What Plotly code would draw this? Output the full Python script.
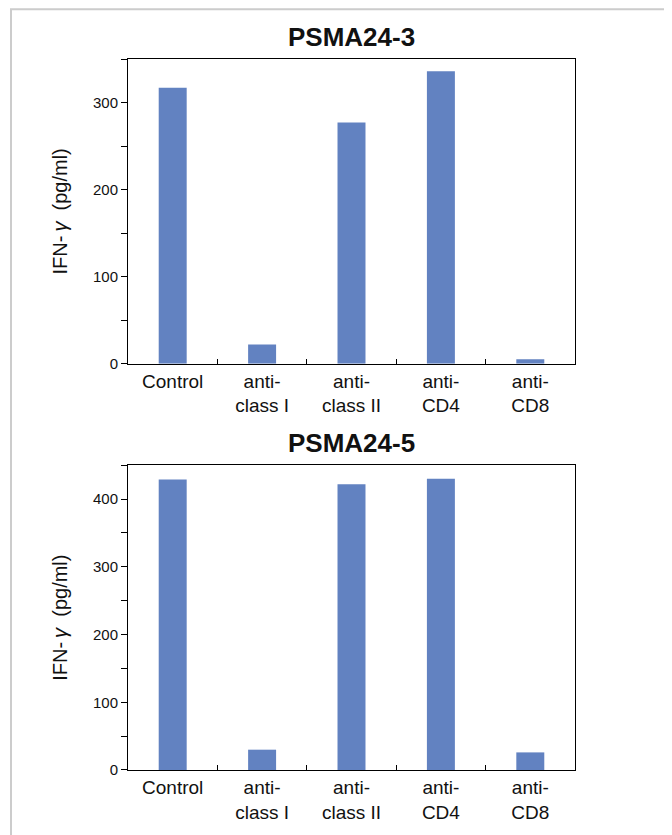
import plotly.graph_objects as go

categories = ["Control", "anti-<br>class I", "anti-<br>class II", "anti-<br>CD4", "anti-<br>CD8"]
psma24_3 = [317, 22, 277, 336, 5]
psma24_5 = [429, 30, 422, 430, 26]
titles = ["PSMA24-3", "PSMA24-5"]
y_title = "IFN-\u2009<i>γ</i>  (pg/ml)"

BAR = "#6282C1"
FONT = "Liberation Sans, Arial, sans-serif"

# page has an 8px body margin, so the figure is laid out 8px up/left of screen coords
OFF = 8
W, H = 672 - OFF, 835 - OFF
L, T = 128 - OFF, 59 - OFF
R = W - (575 - OFF)
B = H - (773 - OFF)
pw = W - L - R
ph = H - T - B

top_lo = (773 - 365) / ph
bot_hi = (773 - 467) / ph

fig = go.Figure()
fig.add_trace(go.Bar(x=categories, y=psma24_3, marker_color=BAR, marker_line_width=0,
                     xaxis="x", yaxis="y", showlegend=False))
fig.add_trace(go.Bar(x=categories, y=psma24_5, marker_color=BAR, marker_line_width=0,
                     xaxis="x2", yaxis="y2", showlegend=False))

xcommon = dict(type="category", showline=True, linecolor="black", linewidth=1, mirror=True,
               ticks="inside", tickson="boundaries", ticklen=5, tickcolor="black",
               tickfont=dict(size=19, color="#111", family=FONT), showgrid=False, zeroline=False)
ycommon = dict(showline=True, linecolor="black", linewidth=1, mirror=True,
               ticks="outside", ticklen=6, tickcolor="black", dtick=100,
               minor=dict(dtick=50, ticks="outside", ticklen=6, tickcolor="black", showgrid=False),
               tickfont=dict(size=15, color="#111", family=FONT), showgrid=False, zeroline=False,
               title=dict(text=y_title, font=dict(size=20, color="#111", family=FONT), standoff=19))

fig.update_layout(
    width=W, height=H,
    margin=dict(l=L, r=R, t=T, b=B),
    paper_bgcolor="white", plot_bgcolor="white",
    bargap=0.687,
    font=dict(family=FONT, color="#111"),
    xaxis=dict(domain=[0, 1], anchor="y", **xcommon),
    yaxis=dict(domain=[top_lo, 1], anchor="x", range=[0, 350], **ycommon),
    xaxis2=dict(domain=[0, 1], anchor="y2", **xcommon),
    yaxis2=dict(domain=[0, bot_hi], anchor="x2", range=[0, 450], **ycommon),
)

for t, ytop in zip(titles, [1, bot_hi]):
    fig.add_annotation(text="<b>" + t + "</b>", x=0.5, y=ytop, xref="paper", yref="paper",
                       xanchor="center", yanchor="bottom", showarrow=False, yshift=5,
                       font=dict(size=26, color="#111", family=FONT))

# outer frame (screen coords: left 11, right 666.5, top ~6)
fig.add_shape(type="rect", xref="paper", yref="paper",
              x0=(11 - OFF - L) / pw, x1=(666.5 - OFF - L) / pw,
              y0=(H - B - 860) / ph, y1=(H - B - 1) / ph,
              line=dict(color="#cccccc", width=2), fillcolor="rgba(0,0,0,0)", layer="below")

fig.write_html("out.html")
